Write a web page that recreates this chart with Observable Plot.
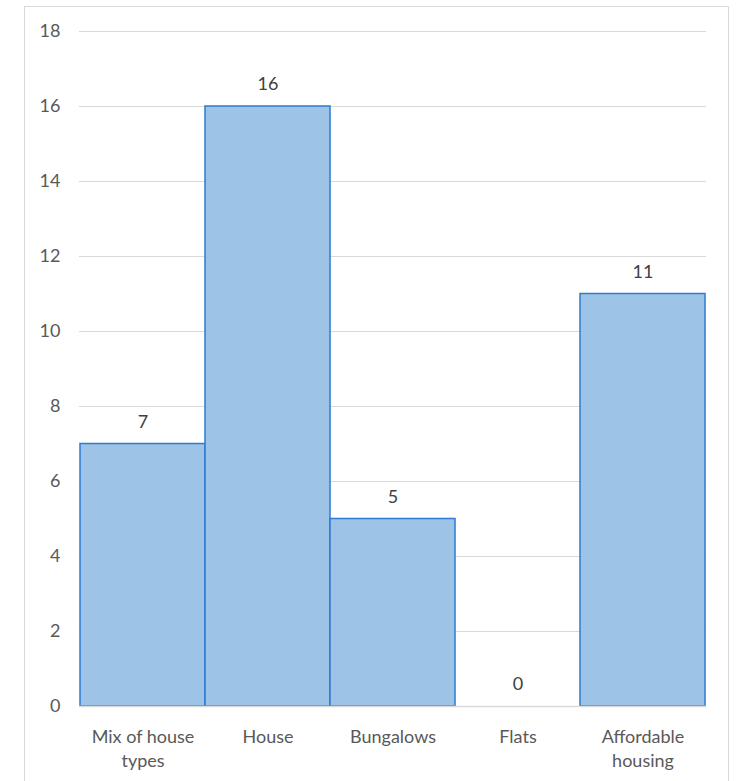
<!DOCTYPE html>
<html>
<head>
<meta charset="utf-8">
<script src="https://cdn.jsdelivr.net/npm/d3@7"></script>
<script src="https://cdn.jsdelivr.net/npm/@observablehq/plot@0.6"></script>
<style>
  html, body { margin: 0; padding: 0; background: #fff; }
  #wrap { position: relative; width: 738px; height: 781px; overflow: hidden; }
  #border { position: absolute; left: 24px; top: 6px; width: 705px; height: 800px; border: 1.5px solid #D9D9D9; box-sizing: border-box; }
  #chart { position: absolute; left: 0; top: 0; }
</style>
</head>
<body>
<div id="wrap"><div id="border"></div><div id="chart"></div></div>
<script>
const categories = ["Mix of house types", "House", "Bungalows", "Flats", "Affordable housing"];
const tickLabels = ["Mix of house\ntypes", "House", "Bungalows", "Flats", "Affordable\nhousing"];
const values = [7, 16, 5, 0, 11];
const yTicks = [0, 2, 4, 6, 8, 10, 12, 14, 16, 18];

const data = categories.map((c, i) => ({category: c, value: values[i]}));
const labelOf = new Map(categories.map((c, i) => [c, tickLabels[i]]));

const chart = Plot.plot({
  width: 738,
  height: 781,
  marginLeft: 79,
  marginRight: 32,
  marginTop: 31,
  marginBottom: 75,
  style: {fontFamily: "Lato, 'Open Sans', sans-serif", fontSize: "18px", color: "#595959", background: "transparent"},
  x: {domain: categories, padding: 0, label: null},
  y: {domain: [0, 18], label: null},
  marks: [
    Plot.gridY(yTicks, {stroke: "#D9D9D9", strokeOpacity: 1, strokeWidth: 1}),
    Plot.barY(data, {x: "category", y: "value", fill: "#9DC3E6", stroke: "#2E7BCF", strokeWidth: 1.5, insetLeft: 0, insetRight: 0}),
    Plot.ruleY([0], {stroke: "#D9D9D9", strokeWidth: 1.5}),
    Plot.text(data, {x: "category", y: "value", text: d => String(d.value), dy: -22, fill: "#404040", fontSize: 18}),
    Plot.axisY(yTicks, {tickSize: 0, tickPadding: 19, fill: "#595959", fontSize: 18, label: null}),
    Plot.axisX({tickSize: 0, tickPadding: 19, tickFormat: d => labelOf.get(d), fill: "#595959", fontSize: 18, lineHeight: 1.35, label: null})
  ]
});
document.getElementById("chart").appendChild(chart);
</script>
</body>
</html>
